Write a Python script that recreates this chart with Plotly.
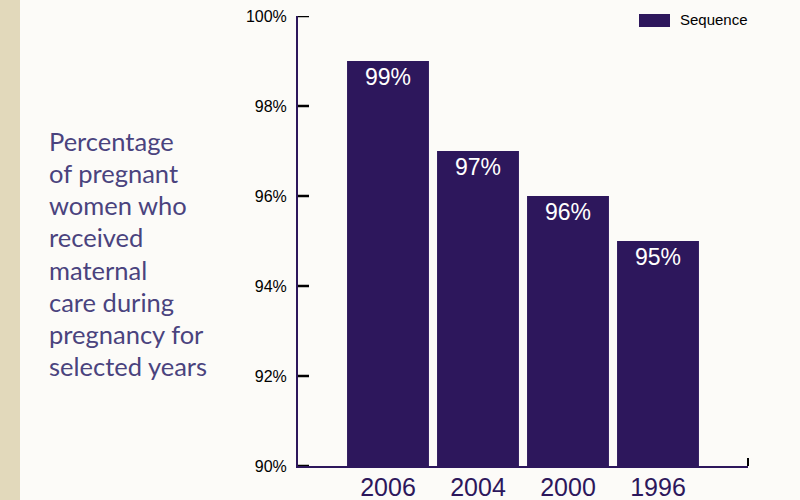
import plotly.graph_objects as go

years = ["2006", "2004", "2000", "1996"]
values = [99, 97, 96, 95]
labels = ["99%", "97%", "96%", "95%"]
series_name = "Sequence"
title_lines = ["Percentage", "of pregnant", "women who", "received", "maternal",
               "care during", "pregnancy for", "selected years"]
ytick_vals = [90, 92, 94, 96, 98, 100]
ytick_text = ["90%", "92%", "94%", "96%", "98%", "100%"]

BAR = "#2d175c"
BG = "#fcfbf8"
TXT = "#4a437e"

W, H = 800, 500
L, R, T, B = 298, 52, 16, 34
PW, PH = W - L - R, H - T - B


def px(x):
    return (x - L) / PW


def py(y):
    return (H - B - y) / PH


fig = go.Figure()
fig.add_trace(go.Bar(
    x=years, y=values, name=series_name, marker=dict(color=BAR, line=dict(width=0)),
    text=labels, textposition="inside", insidetextanchor="end",
    textfont=dict(color="white", size=23, family="Liberation Sans"),
    textangle=0, showlegend=False,
))

fig.update_layout(
    width=W, height=H,
    margin=dict(l=L, r=R, t=T, b=B, autoexpand=False),
    paper_bgcolor=BG, plot_bgcolor=BG,
    bargap=0.09,
    showlegend=False,
    xaxis=dict(range=[-1, 4], showline=True, linecolor=BAR, linewidth=2,
               ticks="", showgrid=False, zeroline=False, automargin=False,
               tickfont=dict(size=25, color=BAR, family="Liberation Sans"),
               ticklabelstandoff=-2),
    yaxis=dict(range=[90, 100], tickvals=ytick_vals, ticktext=ytick_text,
               showline=True, linecolor=BAR, linewidth=2, automargin=False,
               ticks="", showgrid=False, zeroline=False,
               tickfont=dict(size=16, color="black", family="Liberation Sans"),
               ticklabelstandoff=6),
    font=dict(family="Liberation Sans"),
)

shapes = [
    dict(type="rect", xref="paper", yref="paper", x0=px(0), x1=px(20), y0=py(H), y1=py(0),
         fillcolor="#e2d9bb", line=dict(width=0), layer="below"),
    dict(type="line", xref="paper", yref="paper", x0=1, x1=1, y0=0, y1=8 / PH,
         line=dict(color="black", width=2)),
    dict(type="rect", xref="paper", yref="paper", x0=px(639), x1=px(670),
         y0=py(27), y1=py(14), fillcolor=BAR, line=dict(width=0)),
]
# y-axis tick marks pointing into the plot
for v in ytick_vals:
    shapes.append(dict(type="line", xref="paper", yref="y", x0=0, x1=11 / PW, y0=v, y1=v,
                       line=dict(color="black", width=2.5)))
fig.update_layout(shapes=shapes)

fig.add_annotation(xref="paper", yref="paper", x=px(678), y=py(20),
                   text=series_name, showarrow=False, xanchor="left", yanchor="middle",
                   font=dict(size=15, color="black", family="Liberation Sans"))
for i, line in enumerate(title_lines):
    fig.add_annotation(xref="paper", yref="paper", x=px(47), y=py(141 + i * 32.14),
                       text=line, showarrow=False, xanchor="left",
                       yanchor="middle", align="left",
                       font=dict(size=25.5, color=TXT, family="Lato"))

fig.write_html("out.html")
